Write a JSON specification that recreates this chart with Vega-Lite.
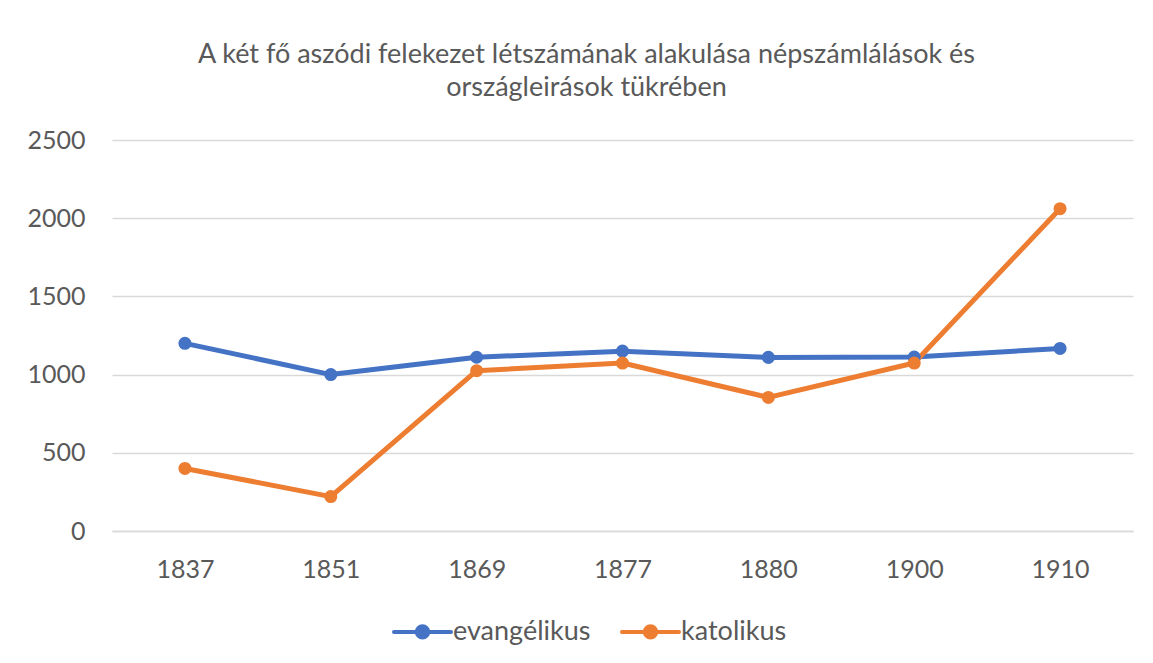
{
  "$schema": "https://vega.github.io/schema/vega-lite/v6.json",
  "autosize": "none",
  "width": 1021,
  "height": 391,
  "padding": {"left": 112, "top": 140, "right": 20, "bottom": 132},
  "background": "white",
  "title": {
    "text": ["A két fő aszódi felekezet létszámának alakulása népszámlálások és", "országleirások tükrében"],
    "anchor": "middle",
    "frame": "group",
    "dx": -36,
    "offset": 26,
    "fontSize": 27,
    "lineHeight": 33,
    "font": "Lato",
    "fontWeight": "normal",
    "color": "#595959"
  },
  "data": {
    "values": [
      {"year": "1837", "series": "evangélikus", "value": 1200},
      {"year": "1851", "series": "evangélikus", "value": 1000},
      {"year": "1869", "series": "evangélikus", "value": 1111},
      {"year": "1877", "series": "evangélikus", "value": 1150},
      {"year": "1880", "series": "evangélikus", "value": 1110},
      {"year": "1900", "series": "evangélikus", "value": 1112},
      {"year": "1910", "series": "evangélikus", "value": 1167},
      {"year": "1837", "series": "katolikus", "value": 400},
      {"year": "1851", "series": "katolikus", "value": 220},
      {"year": "1869", "series": "katolikus", "value": 1025},
      {"year": "1877", "series": "katolikus", "value": 1074},
      {"year": "1880", "series": "katolikus", "value": 854},
      {"year": "1900", "series": "katolikus", "value": 1074},
      {"year": "1910", "series": "katolikus", "value": 2061}
    ]
  },
  "encoding": {
    "x": {
      "field": "year",
      "type": "ordinal",
      "scale": {"paddingInner": 0, "paddingOuter": 0.5},
      "axis": {
        "title": null,
        "labelAngle": 0,
        "ticks": false,
        "grid": false,
        "domain": true,
        "domainColor": "#d9d9d9",
        "domainWidth": 1.5,
        "labelPadding": 26,
        "labelFontSize": 25,
        "labelFont": "Lato",
        "labelColor": "#595959"
      }
    },
    "y": {
      "field": "value",
      "type": "quantitative",
      "scale": {"domain": [0, 2500]},
      "axis": {
        "title": null,
        "values": [0, 500, 1000, 1500, 2000, 2500],
        "format": "d",
        "ticks": false,
        "domain": false,
        "grid": true,
        "gridColor": "#d9d9d9",
        "gridWidth": 1.5,
        "labelPadding": 27,
        "labelFontSize": 25,
        "labelFont": "Lato",
        "labelColor": "#595959"
      }
    },
    "color": {
      "field": "series",
      "type": "nominal",
      "scale": {"domain": ["evangélikus", "katolikus"], "range": ["#4472C4", "#ED7D31"]},
      "legend": {
        "title": null,
        "orient": "none",
        "direction": "horizontal",
        "legendX": 280,
        "legendY": 461,
        "symbolType": "M-1,0L1,0M-0.2,0A0.2,0.2 0 1,1 0.2,0A0.2,0.2 0 1,1 -0.2,0Z",
        "symbolSize": 3249,
        "symbolStrokeWidth": 4,
        "labelFontSize": 27,
        "labelFont": "Lato",
        "labelColor": "#595959",
        "labelOffset": 0,
        "columnPadding": 23,
        "encode": {
          "symbols": {
            "update": {
              "fill": {"scale": "color", "field": "value"},
              "stroke": {"scale": "color", "field": "value"},
              "strokeCap": {"value": "round"}
            }
          }
        }
      }
    }
  },
  "layer": [
    {"mark": {"type": "line", "strokeWidth": 5, "strokeCap": "round", "strokeJoin": "round"}},
    {"mark": {"type": "point", "filled": true, "opacity": 1, "size": 170}}
  ],
  "config": {"view": {"stroke": null}}
}
